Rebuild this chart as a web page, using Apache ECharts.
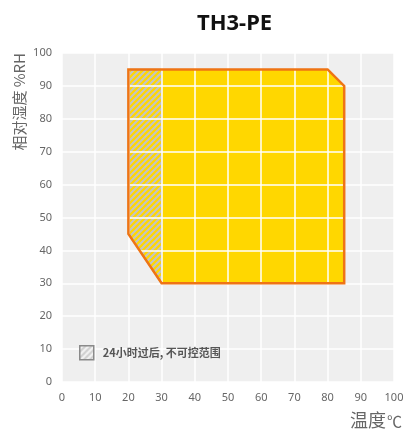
<!DOCTYPE html>
<html><head><meta charset="utf-8">
<script src="https://cdn.jsdelivr.net/npm/echarts@6/dist/echarts.min.js"></script>
<style>html,body{margin:0;padding:0;background:#fff}#c{width:405px;height:434px}</style>
</head><body><div id="c"></div>
<script>
const title = 'TH3-PE';
const xNameMain = '温度';
const xNameUnit = '℃';
const yName = '相对湿度 %RH';
const legendName = '24小时过后, 不可控范围';
const xTicks = [0,10,20,30,40,50,60,70,80,90,100];
const yTicks = [0,10,20,30,40,50,60,70,80,90,100];
const rangeX = [20, 20, 80, 85, 85, 30];
const rangeY = [45, 95, 95, 90, 30, 30];
const hatchX = [20, 20, 30, 30];
const hatchY = [45, 95, 95, 30];

function makePattern(bg, stripe) {
  const c = document.createElement('canvas');
  c.width = 6; c.height = 6;
  const g = c.getContext('2d');
  if (bg) { g.fillStyle = bg; g.fillRect(0,0,6,6); }
  g.strokeStyle = stripe; g.lineWidth = 2;
  g.beginPath();
  g.moveTo(-1, 7); g.lineTo(7, -1);
  g.moveTo(-1, 1); g.lineTo(1, -1);
  g.moveTo(5, 7); g.lineTo(7, 5);
  g.stroke();
  return c;
}
const hatchPattern = {image: makePattern(null, '#c4c4c4'), repeat: 'repeat'};
const legendPattern = {image: makePattern('#f4f4f4', '#cfcfcf'), repeat: 'repeat'};

const rangeData = rangeX.map((x,i)=>[x, rangeY[i]]);
const hatchData = hatchX.map((x,i)=>[x, hatchY[i]]);

function polyRender(data, style) {
  return function(params, api) {
    if (params.dataIndex !== 0) return;
    const pts = data.map(p => api.coord(p));
    return {type: 'polygon', shape: {points: pts}, style: style};
  };
}

const chart = echarts.init(document.getElementById('c'));
chart.setOption({
  animation: false,
  title: {text: title, left: 192, top: 8,
    textStyle: {fontSize: 22, fontWeight: 'bold', color: '#111', fontFamily: 'Noto Sans'}},
  grid: {left: 62, right: 11, top: 53, bottom: 52, show: true, backgroundColor: '#efefef', borderWidth: 0,
    containLabel: false, outerBoundsMode: 'none'},
  legend: {left: 79, top: 345, padding: 0, itemWidth: 14, itemHeight: 14, itemGap: 6,
    textStyle: {color: '#555', fontSize: 11, fontWeight: 'bold', fontFamily: 'Noto Sans CJK SC', padding: [0, 0, 0, 4]},
    data: [{name: legendName, icon: 'rect', itemStyle: {color: legendPattern, borderColor: '#8a8a8a', borderWidth: 1.5}}]},
  xAxis: {type: 'value', min: 0, max: 100, interval: 10, z: 2,
    name: '{a|' + xNameMain + '}{b|' + xNameUnit + '}', nameLocation: 'end', nameGap: 8,
    nameTextStyle: {color: '#666', align: 'right', verticalAlign: 'top', padding: [29, 0, 0, 0],
      rich: {a: {fontSize: 18, color: '#666', fontFamily: 'Noto Sans CJK SC'},
             b: {fontSize: 15, color: '#666', fontFamily: 'Noto Sans CJK SC', padding: [3, 0, 0, 1]}}},
    axisLine: {show: false}, axisTick: {show: false},
    axisLabel: {color: '#666', fontSize: 11, margin: 10, fontFamily: 'Noto Sans',
      formatter: v => xTicks.includes(v) ? String(v) : ''},
    splitLine: {show: true, lineStyle: {color: '#ffffff', width: 1.5}}},
  yAxis: {type: 'value', min: 0, max: 100, interval: 10, z: 2,
    name: yName, nameLocation: 'end', nameRotate: 90, nameGap: 0,
    nameTextStyle: {fontSize: 15, color: '#666', fontFamily: 'Noto Sans CJK SC', align: 'right', verticalAlign: 'bottom', padding: [0, 0, 35, 0]},
    axisLine: {show: false}, axisTick: {show: false},
    axisLabel: {color: '#666', fontSize: 11, margin: 10, fontFamily: 'Noto Sans',
      formatter: v => yTicks.includes(v) ? String(v) : ''},
    splitLine: {show: true, lineStyle: {color: '#ffffff', width: 1.5}}},
  series: [
    {type: 'custom', name: '可控范围', z: 1, silent: true, data: rangeData,
      renderItem: polyRender(rangeData, {fill: '#ffd700', stroke: 'none'})},
    {type: 'custom', name: legendName, z: 1, silent: true, data: hatchData,
      itemStyle: {color: legendPattern, borderColor: '#8a8a8a', borderWidth: 1.5},
      renderItem: polyRender(hatchData, {fill: hatchPattern, stroke: '#b8b8b8', lineWidth: 1.5})},
    {type: 'custom', name: 'outline', z: 3, silent: true, data: rangeData,
      renderItem: polyRender(rangeData, {fill: 'none', stroke: '#ef7414', lineWidth: 2.5, lineJoin: 'miter'})}
  ]
});
</script></body></html>
